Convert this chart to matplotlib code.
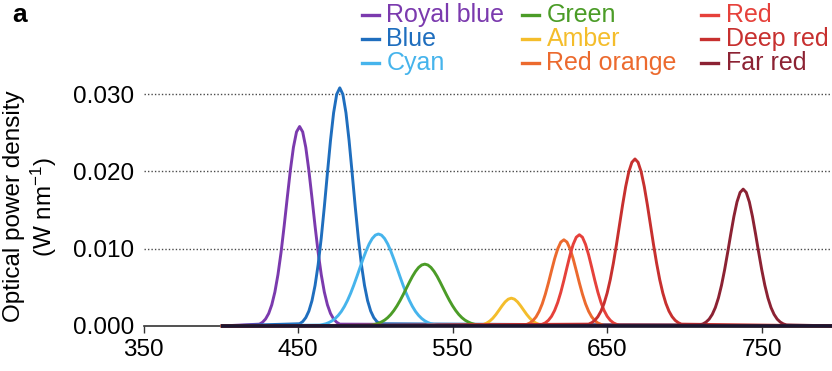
import numpy as np
import matplotlib
matplotlib.use("Agg")
import matplotlib.pyplot as plt
from matplotlib.lines import Line2D

plt.rcParams['font.family'] = ['Liberation Sans', 'DejaVu Sans']
plt.rcParams['mathtext.fontset'] = 'custom'
plt.rcParams['mathtext.rm'] = 'Liberation Sans'
plt.rcParams['mathtext.it'] = 'Liberation Sans:italic'

names = ['Royal blue', 'Blue', 'Cyan', 'Green', 'Amber',
         'Red orange', 'Red', 'Deep red', 'Far red']
colors = ['#7B3AAE', '#1F6EBE', '#46B4EC', '#4B9C27', '#F4BD2B',
          '#EC6A2E', '#E6413B', '#C7302F', '#8C2233']

royal_blue_start = 425
royal_blue = [0.00024, 0.00048, 0.00091, 0.00162, 0.00274, 0.00439, 0.00665,
              0.00952, 0.01292, 0.01657, 0.02011, 0.02310, 0.02510, 0.02580,
              0.02510, 0.02310, 0.02011, 0.01657, 0.01292, 0.00952, 0.00665,
              0.00439, 0.00274, 0.00162, 0.00091, 0.00048, 0.00024]

blue_start = 451
blue = [0.00029, 0.00057, 0.00108, 0.00193, 0.00327, 0.00524, 0.00793,
        0.01137, 0.01542, 0.01978, 0.02401, 0.02757, 0.02996, 0.03080,
        0.02996, 0.02757, 0.02401, 0.01978, 0.01542, 0.01137, 0.00793,
        0.00524, 0.00327, 0.00193, 0.00108, 0.00057, 0.00029]

cyan_start = 464
cyan = [0.00012, 0.00019, 0.00029, 0.00045, 0.00067, 0.00097, 0.00137,
        0.00188, 0.00253, 0.00331, 0.00422, 0.00525, 0.00636, 0.00751,
        0.00864, 0.00970, 0.01061, 0.01131, 0.01175, 0.01190, 0.01175,
        0.01131, 0.01061, 0.00970, 0.00864, 0.00751, 0.00636, 0.00525,
        0.00422, 0.00331, 0.00253, 0.00188, 0.00137, 0.00097, 0.00067,
        0.00045, 0.00029, 0.00019, 0.00012]

green_start = 496
green = [0.00009, 0.00014, 0.00023, 0.00035, 0.00053, 0.00076, 0.00108,
         0.00149, 0.00200, 0.00260, 0.00329, 0.00405, 0.00485, 0.00565,
         0.00641, 0.00706, 0.00757, 0.00789, 0.00800, 0.00789, 0.00757,
         0.00706, 0.00641, 0.00565, 0.00485, 0.00405, 0.00329, 0.00260,
         0.00200, 0.00149, 0.00108, 0.00076, 0.00053, 0.00035, 0.00023,
         0.00014, 0.00009]

amber_start = 566
amber = [0.00005, 0.00010, 0.00020, 0.00037, 0.00063, 0.00100, 0.00148,
         0.00204, 0.00261, 0.00312, 0.00347, 0.00360, 0.00347, 0.00312,
         0.00261, 0.00204, 0.00148, 0.00100, 0.00063, 0.00037, 0.00020,
         0.00010, 0.00005]

red_orange_start = 596
red_orange = [0.00010, 0.00021, 0.00039, 0.00070, 0.00118, 0.00190, 0.00287,
              0.00412, 0.00558, 0.00716, 0.00869, 0.00998, 0.01085, 0.01115,
              0.01085, 0.00998, 0.00869, 0.00716, 0.00558, 0.00412, 0.00287,
              0.00190, 0.00118, 0.00070, 0.00039, 0.00021, 0.00010]

red_start = 606
red = [0.00011, 0.00022, 0.00041, 0.00074, 0.00125, 0.00201, 0.00304,
       0.00436, 0.00591, 0.00758, 0.00920, 0.01056, 0.01148, 0.01180,
       0.01148, 0.01056, 0.00920, 0.00758, 0.00591, 0.00436, 0.00304,
       0.00201, 0.00125, 0.00074, 0.00041, 0.00022, 0.00011]

deep_red_start = 638
deep_red = [0.00024, 0.00043, 0.00073, 0.00121, 0.00192, 0.00292, 0.00427,
            0.00600, 0.00811, 0.01051, 0.01310, 0.01568, 0.01804, 0.01994,
            0.02117, 0.02160, 0.02117, 0.01994, 0.01804, 0.01568, 0.01310,
            0.01051, 0.00811, 0.00600, 0.00427, 0.00292, 0.00192, 0.00121,
            0.00073, 0.00043, 0.00024]

far_red_start = 710
far_red = [0.00014, 0.00027, 0.00051, 0.00089, 0.00150, 0.00239, 0.00364,
           0.00528, 0.00728, 0.00955, 0.01192, 0.01417, 0.01604, 0.01727,
           0.01770, 0.01727, 0.01604, 0.01417, 0.01192, 0.00955, 0.00728,
           0.00528, 0.00364, 0.00239, 0.00150, 0.00089, 0.00051, 0.00027,
           0.00014]

spectra = [(royal_blue_start, royal_blue), (blue_start, blue), (cyan_start, cyan),
           (green_start, green), (amber_start, amber),
           (red_orange_start, red_orange), (red_start, red),
           (deep_red_start, deep_red), (far_red_start, far_red)]

wl_min, wl_max = 400, 800
xticks = [350, 450, 550, 650, 750]
yticks = [0.0, 0.01, 0.02, 0.03]

W, H = 832, 371
fig = plt.figure(figsize=(W / 100, H / 100), dpi=100)
ax = fig.add_axes([143.5 / W, 45 / H, 695.5 / W, 251.3 / H])

for (start, vals), c in zip(spectra, colors):
    x = np.concatenate([[wl_min], start + 2 * np.arange(len(vals)), [wl_max]])
    y = np.concatenate([[0.0], vals, [0.0]])
    ax.plot(x, y, color=c, lw=2.1, clip_on=False, zorder=3,
            solid_capstyle='butt')

# overlapping zero levels of all spectra read as one dark band
ax.hlines(0, wl_min, wl_max, color='#1b1630', lw=2.6, zorder=4, clip_on=False)

ax.set_xlim(350, 800)
ax.set_ylim(0, 0.0325)

for yv in yticks[1:]:
    ax.axhline(yv, color='#4a4a4a', lw=1.0, ls=(0, (1, 1.5)), zorder=1)

ax.set_xticks(xticks)
ax.set_yticks(yticks)
ax.set_yticklabels([f"{v:.3f}" for v in yticks])
ax.tick_params(axis='x', length=5, width=1, pad=4, labelsize=17.5,
               color='#333333')
ax.tick_params(axis='y', length=0, pad=7, labelsize=17.5)
for s in ['top', 'right', 'left']:
    ax.spines[s].set_visible(False)
ax.spines['bottom'].set_linewidth(1.2)
ax.spines['bottom'].set_color('#333333')
ax.spines['bottom'].set_zorder(2)

fig.text(31 / W, 1 - 206.5 / H, "Optical power density\n(W nm$^{-1}$)",
         rotation=90, ha='center', va='center', fontsize=17.5,
         multialignment='center', linespacing=1.15)

fig.text(12 / W, 1 - 22 / H, "a", fontsize=19, fontweight='bold',
         ha='left', va='baseline')

# legend laid out by hand, three columns
col_x = [362, 522, 701]
row_y = [15, 39, 63]
for i, (name, c) in enumerate(zip(names, colors)):
    cx = col_x[i // 3]
    ry = row_y[i % 3]
    fig.add_artist(Line2D([cx / W, (cx + 17) / W], [1 - ry / H, 1 - ry / H],
                          color=c, lw=2.4, transform=fig.transFigure))
    fig.text((cx + 24.5) / W, 1 - ry / H, name, color=c, fontsize=18,
             ha='left', va='center')

fig.savefig("out.png", dpi=100)
